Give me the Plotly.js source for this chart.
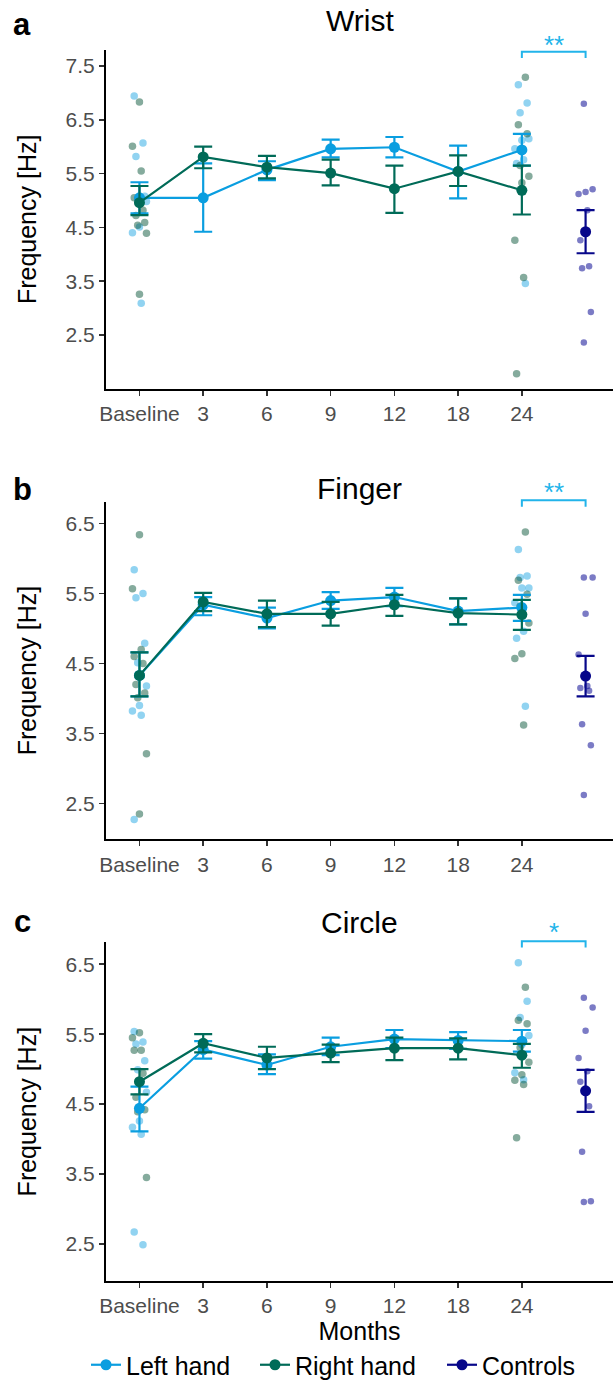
<!DOCTYPE html>
<html><head><meta charset="utf-8">
<script src="https://cdn.plot.ly/plotly-3.0.1.min.js"></script>
<style>html,body{margin:0;padding:0;background:#fff;}</style>
</head><body><div id="chart" style="width:613px;height:1388px;"></div>
<script>
// ---------- DATA ----------
const months = ['Baseline', '3', '6', '9', '12', '18', '24'];
const panelTitles = ['Wrist', 'Finger', 'Circle'];
const panelLetters = ['a', 'b', 'c'];
const seriesNames = ['Left hand', 'Right hand', 'Controls'];

// Wrist
const wristLeftMean  = [5.05, 5.05, 5.57, 5.96, 5.99, 5.54, 5.94];
const wristLeftUpper = [5.34, 5.69, 5.73, 6.13, 6.18, 6.02, 6.24];
const wristLeftLower = [4.76, 4.42, 5.38, 5.80, 5.80, 5.04, 5.65];
const wristRightMean  = [4.96, 5.81, 5.62, 5.51, 5.22, 5.54, 5.19];
const wristRightUpper = [5.27, 6.00, 5.83, 5.76, 5.65, 5.84, 5.65];
const wristRightLower = [4.73, 5.60, 5.41, 5.28, 4.77, 5.27, 4.74];
const wristControls = [4.42, 4.82, 4.02]; // mean, upper, lower
const wristLeftBaseline  = [6.94, 6.07, 5.82, 5.08, 5.02, 4.98, 4.51, 4.40, 3.09];
const wristRightBaseline = [6.83, 6.01, 5.55, 5.05, 4.82, 4.72, 4.59, 4.54, 4.39, 3.26];
const wristLeft24  = [7.15, 6.81, 6.63, 6.15, 6.12, 5.96, 5.76, 5.69, 3.46];
const wristRight24 = [7.29, 6.41, 6.24, 5.65, 5.45, 5.33, 4.26, 3.57, 1.78];
const wristControlPoints = [6.80, 5.21, 5.16, 5.12, 4.82, 4.26, 3.78, 3.74, 2.93, 2.36];

// Finger
const fingerLeftMean  = [4.33, 5.34, 5.15, 5.40, 5.45, 5.25, 5.30];
const fingerLeftUpper = [4.66, 5.45, 5.30, 5.52, 5.58, 5.43, 5.48];
const fingerLeftLower = [4.03, 5.19, 5.00, 5.28, 5.32, 5.06, 5.11];
const fingerRightMean  = [4.33, 5.38, 5.21, 5.21, 5.34, 5.22, 5.20];
const fingerRightUpper = [4.66, 5.51, 5.40, 5.38, 5.48, 5.43, 5.41];
const fingerRightLower = [4.03, 5.25, 5.02, 5.04, 5.18, 5.06, 4.98];
const fingerControls = [4.32, 4.61, 4.03];
const fingerLeftBaseline  = [5.84, 5.50, 5.44, 4.79, 4.51, 4.18, 3.90, 3.82, 3.76, 2.27];
const fingerRightBaseline = [6.34, 5.57, 4.70, 4.60, 4.50, 4.20, 4.08, 4.01, 3.21, 2.35];
const fingerLeft24  = [6.13, 5.75, 5.73, 5.58, 5.58, 5.37, 4.96, 4.86, 3.89];
const fingerRight24 = [6.38, 5.69, 5.49, 5.32, 5.08, 4.64, 4.57, 3.62];
const fingerControlPoints = [5.73, 5.73, 5.21, 4.63, 4.18, 4.15, 4.11, 3.63, 3.33, 2.62];

// Circle
const circleLeftMean  = [4.44, 5.28, 5.06, 5.32, 5.43, 5.41, 5.40];
const circleLeftUpper = [4.75, 5.40, 5.21, 5.45, 5.56, 5.53, 5.56];
const circleLeftLower = [4.11, 5.15, 4.93, 5.20, 5.30, 5.29, 5.25];
const circleRightMean  = [4.82, 5.37, 5.16, 5.23, 5.30, 5.30, 5.20];
const circleRightUpper = [5.00, 5.50, 5.32, 5.35, 5.45, 5.44, 5.36];
const circleRightLower = [4.64, 5.24, 5.00, 5.10, 5.13, 5.14, 5.02];
const circleControls = [4.69, 4.99, 4.39];
const circleLeftBaseline  = [5.54, 5.39, 5.36, 5.12, 4.99, 4.67, 4.26, 4.17, 4.07, 2.67, 2.49];
const circleRightBaseline = [5.52, 5.45, 5.27, 5.27, 4.94, 4.60, 4.42, 4.39, 3.45];
const circleLeft24  = [6.52, 5.97, 5.74, 5.48, 5.35, 4.95, 4.85];
const circleRight24 = [6.17, 5.70, 5.65, 5.31, 5.10, 4.92, 4.84, 4.78, 4.02];
const circleControlPoints = [6.02, 5.88, 5.55, 5.16, 4.97, 4.82, 4.47, 3.82, 3.11, 3.10];

const significance = ['**', '**', '*'];
const yTickVals = [[2.5, 3.5, 4.5, 5.5, 6.5, 7.5], [2.5, 3.5, 4.5, 5.5, 6.5], [2.5, 3.5, 4.5, 5.5, 6.5]];

// ---------- STYLE ----------
const BLUE = '#0a9ee0', GREEN = '#006b58', NAVY = '#07078a';
const BLUE_PT = 'rgba(10,158,224,0.45)', GREEN_PT = 'rgba(0,80,50,0.48)', NAVY_PT = 'rgba(15,15,150,0.55)';
const SIG = '#22b4ea';
const FONT = 'Liberation Sans, Arial, Helvetica, sans-serif';
const legendWidths = [124, 142, 100];

const panels = [
  {lm: wristLeftMean, lu: wristLeftUpper, ll: wristLeftLower, rm: wristRightMean, ru: wristRightUpper, rl: wristRightLower,
   c: wristControls, lb: wristLeftBaseline, rb: wristRightBaseline, l24: wristLeft24, r24: wristRight24, cp: wristControlPoints},
  {lm: fingerLeftMean, lu: fingerLeftUpper, ll: fingerLeftLower, rm: fingerRightMean, ru: fingerRightUpper, rl: fingerRightLower,
   c: fingerControls, lb: fingerLeftBaseline, rb: fingerRightBaseline, l24: fingerLeft24, r24: fingerRight24, cp: fingerControlPoints},
  {lm: circleLeftMean, lu: circleLeftUpper, ll: circleLeftLower, rm: circleRightMean, ru: circleRightUpper, rl: circleRightLower,
   c: circleControls, lb: circleLeftBaseline, rb: circleRightBaseline, l24: circleLeft24, r24: circleRight24, cp: circleControlPoints}
];

const monthPos = months.map((m, i) => i + 1);
const basePos = months.indexOf('Baseline') + 1;
const lastPos = months.indexOf('24') + 1;
const controlPos = months.length + 1;

function jitter(vals, center, seed) {
  return vals.map((v, i) => center + ((((i * 5 + seed) % 9) / 8) - 0.5) * 0.22);
}
function diff(a, b) { return a.map((v, i) => v - b[i]); }

const traces = [];
panels.forEach((p, k) => {
  const sx = k === 0 ? 'x' : 'x' + (k + 1);
  const sy = k === 0 ? 'y' : 'y' + (k + 1);
  const pts = (vals, center, seed, color, size, name) => ({
    type: 'scatter', mode: 'markers', x: jitter(vals, center, seed), y: vals, xaxis: sx, yaxis: sy,
    marker: {color: color, size: size, line: {width: 0}}, showlegend: false, hoverinfo: 'y', name: name
  });
  traces.push(pts(p.lb, basePos, 1, BLUE_PT, 7.5, seriesNames[0]));
  traces.push(pts(p.rb, basePos, 4, GREEN_PT, 7.5, seriesNames[1]));
  traces.push(pts(p.l24, lastPos, 2, BLUE_PT, 7.5, seriesNames[0]));
  traces.push(pts(p.r24, lastPos, 6, GREEN_PT, 7.5, seriesNames[1]));
  traces.push(pts(p.cp, controlPos, 3, NAVY_PT, 6.5, seriesNames[2]));
  const meanTrace = (m, u, l, color, name, lw) => ({
    type: 'scatter', mode: 'lines+markers', x: monthPos, y: m, xaxis: sx, yaxis: sy,
    line: {color: color, width: 2.2}, marker: {color: color, size: 11},
    error_y: {type: 'data', symmetric: false, array: diff(u, m), arrayminus: diff(m, l), color: color, thickness: 2.2, width: 9},
    name: name, legendgroup: name, showlegend: k === 0, legendwidth: lw
  });
  traces.push(meanTrace(p.lm, p.lu, p.ll, BLUE, seriesNames[0], legendWidths[0]));
  traces.push(meanTrace(p.rm, p.ru, p.rl, GREEN, seriesNames[1], legendWidths[1]));
  traces.push({
    type: 'scatter', mode: 'lines+markers', x: [controlPos], y: [p.c[0]], xaxis: sx, yaxis: sy,
    line: {color: NAVY, width: 2.2}, marker: {color: NAVY, size: 11},
    error_y: {type: 'data', symmetric: false, array: [p.c[1] - p.c[0]], arrayminus: [p.c[0] - p.c[2]], color: NAVY, thickness: 2.2, width: 9},
    name: seriesNames[2], legendgroup: seriesNames[2], showlegend: k === 0, legendwidth: legendWidths[2]
  });
});

// ---------- LAYOUT ----------
const TOP = 50, BOTTOM = 1282, H = BOTTOM - TOP, LEFT = 106, W = 613 - LEFT;
const fy = px => (BOTTOM - px) / H;
const fx = px => (px - LEFT) / W;
const panelPx = [[50, 389], [502, 840], [943, 1282]];
const domains = panelPx.map(([t, b]) => [fy(b), fy(t)]);
const yRanges = [[1.503, 7.797], [1.986, 6.814], [1.971, 6.814]];
const xRange = [0.475, 8.43];
const titleY = [20, 489, 923];
const letterY = [24, 490, 922];
const bracketPx = [[51.7, 58], [500.7, 507], [942, 948.3]];
const sigTextPx = [45, 492, 933];

const layout = {
  width: 613, height: 1388,
  margin: {l: LEFT, r: 0, t: TOP, b: 1388 - BOTTOM, pad: 0},
  paper_bgcolor: 'white', plot_bgcolor: 'white',
  font: {family: FONT, color: '#000'},
  showlegend: true,
  legend: {orientation: 'h', x: fx(86), xanchor: 'left', y: fy(1366), yanchor: 'middle',
           font: {size: 25, color: '#000'}, itemwidth: 30, traceorder: 'normal', bgcolor: 'rgba(0,0,0,0)'},
  shapes: [], annotations: []
};

for (let k = 0; k < 3; k++) {
  const xs = k === 0 ? 'xaxis' : 'xaxis' + (k + 1);
  const ys = k === 0 ? 'yaxis' : 'yaxis' + (k + 1);
  const yref = k === 0 ? 'y' : 'y' + (k + 1);
  const xref = k === 0 ? 'x' : 'x' + (k + 1);
  layout[xs] = {
    domain: [0, 1], anchor: yref, range: xRange, showgrid: false, zeroline: false,
    showline: true, linecolor: '#000', linewidth: 2,
    ticks: 'outside', ticklen: 5, tickwidth: 1.6, tickcolor: '#333',
    tickmode: 'array', tickvals: monthPos, ticktext: months,
    tickfont: {size: 21, color: '#4d4d4d', family: FONT}
  };
  if (k === 2) {
    layout[xs].title = {text: 'Months', font: {size: 25, color: '#000', family: FONT}, standoff: 4};
  }
  layout[ys] = {
    domain: domains[k], anchor: xref, range: yRanges[k], showgrid: false, zeroline: false,
    showline: true, linecolor: '#000', linewidth: 2,
    ticks: 'outside', ticklen: 5, tickwidth: 1.6, tickcolor: '#333',
    tickmode: 'array', tickvals: yTickVals[k], ticktext: yTickVals[k].map(v => v.toFixed(1)),
    tickfont: {size: 21, color: '#4d4d4d', family: FONT},
    title: {text: 'Frequency [Hz]', font: {size: 25, color: '#000', family: FONT}, standoff: 22}
  };
  // panel title
  layout.annotations.push({text: panelTitles[k], xref: 'paper', yref: 'paper', x: 0.5, y: fy(titleY[k]),
    xanchor: 'center', yanchor: 'middle', showarrow: false, font: {size: 30, color: '#000', family: FONT}});
  // panel letter
  layout.annotations.push({text: '<b>' + panelLetters[k] + '</b>', xref: 'paper', yref: 'paper', x: fx(22), y: fy(letterY[k]),
    xanchor: 'center', yanchor: 'middle', showarrow: false, font: {size: 31, color: '#000', family: FONT}});
  // significance bracket
  const dref = yref + ' domain';
  const [pt, pb] = panelPx[k];
  const dom = px => (pb - px) / (pb - pt);
  const top = dom(bracketPx[k][0]), leg = dom(bracketPx[k][1]);
  layout.shapes.push({type: 'path', xref: xref, yref: dref,
    path: `M ${lastPos} ${leg} L ${lastPos} ${top} L ${controlPos} ${top} L ${controlPos} ${leg}`,
    line: {color: SIG, width: 2}});
  layout.annotations.push({text: significance[k], xref: xref, yref: dref, x: (lastPos + controlPos) / 2, y: dom(sigTextPx[k]),
    xanchor: 'center', yanchor: 'middle', showarrow: false, font: {size: 26, color: SIG, family: FONT}});
}

Plotly.newPlot('chart', traces, layout, {displayModeBar: false, staticPlot: true});
</script></body></html>
